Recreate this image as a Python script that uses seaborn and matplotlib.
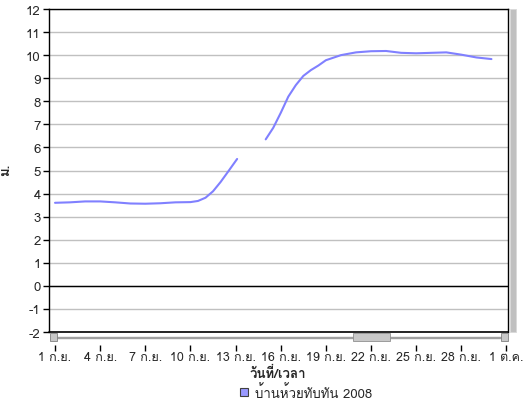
import numpy as np
import pandas as pd
import seaborn as sns
import matplotlib
matplotlib.use('Agg')
import matplotlib.pyplot as plt
from matplotlib.patches import Rectangle
from matplotlib.lines import Line2D

# water level (m) at Ban Huai Thap Than, Sep 2008
day_offset = [0.0, 1.0, 2.0, 3.0, 4.0, 5.0, 6.0, 7.0, 8.0, 9.0, 9.5, 10.0, 10.5, 11.0, 11.5, 12.1,
              14.0, 14.5, 15.0, 15.5, 16.0, 16.5, 17.0, 17.5, 18.0, 19.0, 20.0, 21.0, 22.0,
              23.0, 24.0, 25.0, 26.0, 27.0, 28.0, 29.0]
level = [3.60, 3.62, 3.66, 3.66, 3.62, 3.57, 3.56, 3.58, 3.62, 3.63, 3.68, 3.82, 4.10, 4.50, 4.95, 5.50,
         6.35, 6.85, 7.50, 8.20, 8.70, 9.10, 9.35, 9.55, 9.78, 10.00, 10.12, 10.17, 10.18,
         10.10, 10.08, 10.10, 10.12, 10.02, 9.90, 9.83]
segment = [1] * 16 + [2] * 20

tick_days = [0, 3, 6, 9, 12, 15, 18, 21, 24, 27, 30]
tick_labels = ['1 ก.ย.', '4 ก.ย.', '7 ก.ย.', '10 ก.ย.', '13 ก.ย.', '16 ก.ย.',
               '19 ก.ย.', '22 ก.ย.', '25 ก.ย.', '28 ก.ย.', '1 ต.ค.']
series_name = 'บ้านห้วยทับทัน 2008'

start = pd.Timestamp('2008-09-01')
df = pd.DataFrame({'time': start + pd.to_timedelta(day_offset, unit='D'),
                   'level': level, 'segment': segment})

sns.set_style('white')
plt.rcParams['font.family'] = ['Loma', 'DejaVu Sans']
plt.rcParams['axes.unicode_minus'] = False

W, H = 529, 402
fig = plt.figure(figsize=(W / 100, H / 100), dpi=100)
ax = fig.add_axes([49 / W, (H - 333) / H, (508 - 49) / W, (333 - 10) / H])

line_col = '#8080ff'
sns.lineplot(data=df, x='time', y='level', units='segment', estimator=None,
             color=line_col, lw=1.5, ax=ax, legend=False)

ax.set_ylim(-2, 12)
ax.set_yticks(range(-2, 13))
ax.set_xlim(start - pd.Timedelta(days=0.4), start + pd.Timedelta(days=30.1))
ax.set_xticks([start + pd.Timedelta(days=d) for d in tick_days])
ax.set_xticklabels(tick_labels)

ax.grid(axis='y', color='#c0c0c0', lw=1)
ax.axhline(0, color='black', lw=1)
ax.axhline(-2, color='black', lw=1.2, clip_on=False)
for s in ['left', 'top', 'right']:
    ax.spines[s].set_color('black')
    ax.spines[s].set_linewidth(1)
ax.spines['bottom'].set_position(('outward', 9))
ax.spines['bottom'].set_color('none')

ax.tick_params(axis='y', left=True, direction='out', length=4, width=1, color='black',
               labelsize=9.5, pad=2)
ax.tick_params(axis='x', bottom=True, direction='out', length=4, width=1, color='black',
               labelsize=9, pad=1)
ax.set_xlabel('วันที่/เวลา', fontsize=9.5, fontweight='bold', va='center')
ax.set_ylabel('ม.', fontsize=9.5, fontweight='bold')
ax.xaxis.set_label_coords((278 - 49) / 459, -(374 - 333) / 323)
ax.yaxis.set_label_coords((12 - 49) / 459, (333 - 170) / 323)

# scroll bars drawn by the spreadsheet
def px(x, y, w, h, **kw):
    fig.patches.append(Rectangle((x / W, 1 - (y + h) / H), w / W, h / H,
                                 transform=fig.transFigure, **kw))

px(57, 338, 444, 1, color='#a0a0a0')
px(50, 334, 7, 8, facecolor='#c8c8c8', edgecolor='#808080', lw=0.6)
px(353, 334, 37, 8, facecolor='#c8c8c8', edgecolor='#909090', lw=0.6)
px(501, 334, 7, 8, facecolor='#c8c8c8', edgecolor='#808080', lw=0.6)
px(510, 10, 6, 323, facecolor='#c0c0c0', edgecolor='#d8d8d8', lw=0.6)

handle = Line2D([], [], marker='s', ls='none', markersize=6,
                markerfacecolor='#9999ff', markeredgecolor='#404040', markeredgewidth=0.8)
fig.legend([handle], [series_name], loc='center', bbox_to_anchor=(305 / W, 1 - 393 / H),
           frameon=False, fontsize=9.5, handletextpad=0.3, handlelength=1)

fig.savefig('out.png', dpi=100, facecolor='white')
